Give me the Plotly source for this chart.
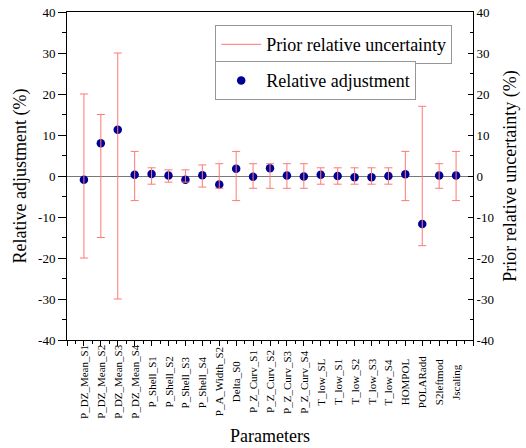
import plotly.graph_objects as go

# Parameters of the adjustment
params = [
    "P_DZ_Mean_S1", "P_DZ_Mean_S2", "P_DZ_Mean_S3", "P_DZ_Mean_S4",
    "P_Shell_S1", "P_Shell_S2", "P_Shell_S3", "P_Shell_S4",
    "P_A_Width_S2", "Delta_S0",
    "P_Z_Curv_S1", "P_Z_Curv_S2", "P_Z_Curv_S3", "P_Z_Curv_S4",
    "T_low_SL", "T_low_S1", "T_low_S2", "T_low_S3", "T_low_S4",
    "HOMPOL", "POLARadd", "S2leftmod", "Jscaling",
]

# Relative adjustment (%)
adjustment = [
    -0.9, 8.0, 11.3, 0.3,
    0.5, 0.1, -0.9, 0.2,
    -2.1, 1.75,
    -0.2, 1.9, 0.1, -0.1,
    0.3, 0.0, -0.3, -0.3, 0.0,
    0.4, -11.7, 0.1, 0.1,
]

# Prior relative uncertainty (%)
uncertainty = [
    20, 15, 30, 6,
    2, 1.5, 1.5, 2.7,
    3, 6,
    3, 3, 3, 3,
    2, 2, 2, 2, 2,
    6, 17, 3, 6,
]

y_ticks = [-40, -30, -20, -10, 0, 10, 20, 30, 40]
y_tick_text = ["-40", "-30", "-20", "-10", "0", "10", "20", "30", "40"]

FONT = "Liberation Serif"
RED = "rgb(255,120,120)"
NAVY = "rgb(0,0,150)"

xpos = list(range(1, len(params) + 1))

fig = go.Figure()

# Prior uncertainty bars, centred on zero
fig.add_trace(go.Scatter(
    x=xpos, y=[0] * len(params), yaxis="y2",
    mode="markers", marker=dict(size=0.1, color="rgba(0,0,0,0)"),
    error_y=dict(type="data", array=uncertainty, visible=True,
                 color=RED, thickness=1, width=4),
    showlegend=False, hoverinfo="skip",
))
# legend entry for the uncertainty bars
fig.add_trace(go.Scatter(
    x=[None], y=[None], mode="lines", yaxis="y2",
    line=dict(color=RED, width=1),
    name="Prior relative uncertainty", legend="legend",
))
# Relative adjustment points
fig.add_trace(go.Scatter(
    x=xpos, y=adjustment, mode="markers",
    marker=dict(size=8.5, color=NAVY),
    name="Relative adjustment", legend="legend2",
))

# Rotated parameter names, centred below the axis
for xp, name in zip(xpos, params):
    fig.add_annotation(
        x=xp, y=-0.128, xref="x", yref="paper",
        text=name, textangle=-90, showarrow=False,
        xanchor="center", yanchor="middle",
        font=dict(family=FONT, size=11, color="black"),
    )

axis_font = dict(family=FONT, size=13, color="black")
title_font = dict(family=FONT, size=18, color="black")
legend_font = dict(family=FONT, size=18, color="black")

fig.update_layout(
    width=526, height=448,
    margin=dict(l=67, r=53, t=12, b=108, autoexpand=False),
    paper_bgcolor="white", plot_bgcolor="white",
    font=dict(family=FONT, color="black"),
    xaxis=dict(
        range=[0, len(params) + 1], tickmode="linear", tick0=0, dtick=1,
        showticklabels=False, ticks="outside", ticklen=5, tickcolor="black",
        minor=dict(dtick=0.5, tick0=0, ticks="outside", ticklen=3, tickcolor="black"),
        showline=True, linecolor="black", linewidth=1, mirror=True,
        showgrid=False, zeroline=False, automargin=False,
        title=dict(text="Parameters", font=title_font, standoff=84),
    ),
    yaxis=dict(
        range=[-40, 40], tickmode="array", tickvals=y_ticks, ticktext=y_tick_text,
        ticks="outside", ticklen=8, tickcolor="black", tickfont=axis_font,
        minor=dict(dtick=5, tick0=0, ticks="outside", ticklen=4, tickcolor="black"),
        showline=True, linecolor="black", linewidth=1,
        showgrid=False, zeroline=True, zerolinecolor="rgb(120,120,120)", zerolinewidth=1,
        automargin=False,
        title=dict(text="Relative adjustment (%)", font=title_font, standoff=6),
    ),
    yaxis2=dict(
        range=[-40, 40], overlaying="y", side="right",
        tickmode="array", tickvals=y_ticks, ticktext=y_tick_text,
        ticks="inside", ticklen=5, tickcolor="black", tickfont=axis_font,
        minor=dict(dtick=5, tick0=0, ticks="inside", ticklen=3, tickcolor="black"),
        showline=True, linecolor="black", linewidth=1,
        showgrid=False, zeroline=False, automargin=False,
        title=dict(text="Prior relative uncertainty (%)", font=title_font, standoff=10),
    ),
    legend=dict(
        x=0.365, y=0.96, xanchor="left", yanchor="top",
        bordercolor="rgb(150,150,150)", borderwidth=1, bgcolor="white",
        font=legend_font, itemwidth=40,
    ),
    legend2=dict(
        x=0.365, y=0.85, xanchor="left", yanchor="top",
        bordercolor="rgb(150,150,150)", borderwidth=1, bgcolor="white",
        font=legend_font, itemwidth=40,
    ),
)

fig.write_html("out.html")
